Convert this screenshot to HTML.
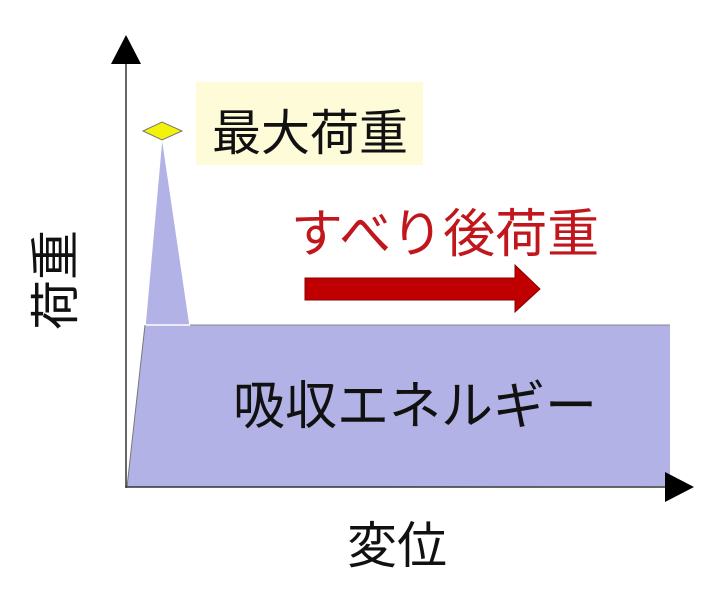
<!DOCTYPE html>
<html><head><meta charset="utf-8"><style>
html,body{margin:0;padding:0;background:#fff;width:728px;height:600px;overflow:hidden}
text{font-family:"Liberation Sans","Noto Sans CJK JP",sans-serif}
</style></head><body>
<svg width="728" height="600" viewBox="0 0 728 600" xmlns="http://www.w3.org/2000/svg">
<polygon points="127,487 145,325 670,325 670,486" fill="#b2b2e6"/>
<polygon points="145,325 162,135 190,325" fill="#b2b2e6" stroke="#fff" stroke-width="1.5"/>
<line x1="190" y1="325" x2="670" y2="325" stroke="#888" stroke-width="1"/>
<line x1="127" y1="487" x2="145" y2="325" stroke="#777" stroke-width="1"/>
<line x1="126" y1="60" x2="126" y2="488" stroke="#333" stroke-width="1.5"/>
<polygon points="126,35 111,64 141,64" fill="#000"/>
<line x1="126" y1="487" x2="668" y2="487" stroke="#333" stroke-width="1.5"/>
<polygon points="694,487 665,472 665,502" fill="#000"/>
<polygon points="143,131 162,122 182,131 162,140" fill="#f2f20a" stroke="#777" stroke-width="1"/>
<rect x="196" y="82" width="227" height="83" fill="#fefbd8"/>
<text x="310" y="150" font-size="49" text-anchor="middle" fill="#111">最大荷重</text>
<text x="445" y="252" font-size="52" text-anchor="middle" fill="#c0161c">すべり後荷重</text>
<polygon points="305,278 515,278 515,265 540,289 515,312 515,300 305,300" fill="#c00000" stroke="#8a0000" stroke-width="1"/>
<text x="415" y="424" font-size="52" text-anchor="middle" fill="#111">吸収エネルギー</text>
<text x="397" y="563" font-size="50" text-anchor="middle" fill="#111">変位</text>
<text x="0" y="0" font-size="50" text-anchor="middle" fill="#111" transform="translate(73,280) rotate(-90)">荷重</text>
</svg>
</body></html>
